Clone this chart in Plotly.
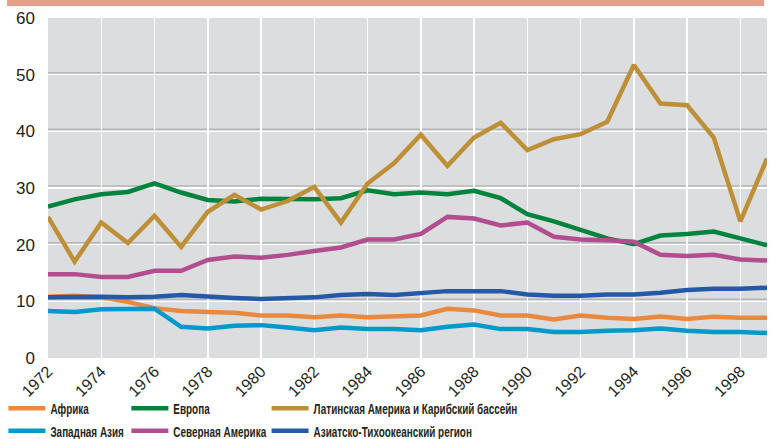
import plotly.graph_objects as go

years = list(range(1972, 2000))

africa = [10.8, 11.0, 10.7, 9.9, 8.8, 8.3, 8.1, 8.0, 7.5, 7.5, 7.2, 7.5, 7.2, 7.3,
          7.5, 8.7, 8.4, 7.5, 7.5, 6.8, 7.5, 7.1, 6.9, 7.3, 6.9, 7.3, 7.1, 7.1]
europe = [26.7, 28.0, 28.9, 29.3, 30.8, 29.2, 27.9, 27.6, 28.1, 28.1, 28.0, 28.2, 29.6, 28.9,
          29.2, 28.9, 29.5, 28.2, 25.4, 24.1, 22.6, 21.1, 20.1, 21.6, 21.9, 22.3, 21.1, 19.9]
latin = [24.9, 17.0, 23.9, 20.3, 25.1, 19.6, 25.8, 28.8, 26.2, 27.7, 30.2, 23.9, 30.8, 34.4,
         39.4, 33.9, 38.9, 41.5, 36.7, 38.6, 39.5, 41.7, 51.7, 44.9, 44.6, 38.9, 24.1, 35.2]
west_asia = [8.3, 8.1, 8.6, 8.6, 8.7, 5.5, 5.2, 5.7, 5.8, 5.4, 4.9, 5.4, 5.1, 5.1,
             4.9, 5.5, 5.9, 5.1, 5.1, 4.6, 4.6, 4.8, 4.9, 5.2, 4.8, 4.6, 4.6, 4.4]
north_america = [14.8, 14.8, 14.3, 14.3, 15.4, 15.4, 17.3, 17.9, 17.7, 18.2, 18.9, 19.5, 20.9, 20.9,
                 21.9, 24.9, 24.6, 23.4, 23.9, 21.4, 20.9, 20.8, 20.5, 18.2, 18.0, 18.2, 17.4, 17.2]
asia_pacific = [10.7, 10.8, 10.8, 10.7, 10.8, 11.1, 10.8, 10.6, 10.4, 10.6, 10.7, 11.1, 11.3, 11.1,
                11.4, 11.8, 11.8, 11.8, 11.2, 11.0, 11.0, 11.2, 11.2, 11.5, 12.0, 12.2, 12.2, 12.4]

series = [
    ("Африка", africa, "#E8893F", "legend"),
    ("Западная Азия", west_asia, "#0099CC", "legend"),
    ("Европа", europe, "#00843D", "legend2"),
    ("Северная Америка", north_america, "#B14E8F", "legend2"),
    ("Азиатско-Тихоокеанский регион", asia_pacific, "#2459A8", "legend3"),
    ("Латинская Америка и Карибский бассейн", latin, "#BD9038", "legend3"),
]

y_ticks = [0, 10, 20, 30, 40, 50, 60]
x_ticks = list(range(1972, 1999, 2))

fig = go.Figure()
for name, vals, color, lg in series:
    fig.add_trace(go.Scatter(x=years, y=vals, name=name, mode="lines",
                             line=dict(color=color, width=4.5), legend=lg,
                             hoverinfo="skip"))

fig.data[4].legendrank = 2
fig.data[5].legendrank = 1

shapes = []
shapes.append(dict(type="rect", xref="paper", yref="paper", x0=-0.057, x1=0.996,
                   y0=1.0 + 12 / 340, y1=1.0 + 18 / 340, fillcolor="#E5A08B",
                   line=dict(width=0), layer="above"))
for v in [10, 20, 30, 40, 50]:
    shapes.append(dict(type="line", xref="paper", yref="y", x0=0, x1=1,
                       ysizemode="pixel", yanchor=v, y0=2, y1=2,
                       line=dict(color="#B5B6B9", width=1.5), layer="below"))

legend_common = dict(orientation="v", yanchor="top", y=-0.100, bgcolor="rgba(0,0,0,0)",
                     font=dict(family="Liberation Sans, Arial, sans-serif",
                               size=15, color="#231F20", weight="bold"),
                     itemwidth=37,
                     tracegroupgap=0, itemclick=False, itemdoubleclick=False)

fig.update_layout(
    width=773, height=439,
    margin=dict(l=48, r=6, t=18, b=81, autoexpand=False),
    paper_bgcolor="white",
    plot_bgcolor="#DCDDDF",
    showlegend=True,
    shapes=shapes,
    legend=dict(x=-0.062, **legend_common),
    legend2=dict(x=0.109, **legend_common),
    legend3=dict(x=0.304, **legend_common),
    xaxis=dict(range=[1972, 1999], tickmode="array", tickvals=x_ticks,
               ticktext=[str(t) for t in x_ticks], tickangle=-45, automargin=False,
               showgrid=True, gridcolor="white", gridwidth=1.5, zeroline=False,
               showline=False, ticks="", tickfont=dict(family="Liberation Sans", size=16, color="#231F20")),
    yaxis=dict(range=[0, 60], tickmode="array", tickvals=y_ticks, automargin=False,
               showgrid=True, gridcolor="white", gridwidth=1.5, zeroline=False,
               showline=False, ticks="", ticklabelstandoff=12,
               tickfont=dict(family="Liberation Sans", size=17, color="#231F20")),
)

post = """
document.body.style.margin = '0';
var gd = document.getElementById('{plot_id}');
function squeeze() {
  gd.querySelectorAll('g.legend text, g.legend2 text, g.legend3 text, text.legendtext').forEach(function (t) {
    if (t.getAttribute('lengthAdjust')) return;
    var w = t.getComputedTextLength();
    if (w > 0) {
      t.setAttribute('textLength', (w * 0.66).toFixed(1));
      t.setAttribute('lengthAdjust', 'spacingAndGlyphs');
    }
  });
}
squeeze();
gd.on('plotly_afterplot', squeeze);
setTimeout(squeeze, 30);
setTimeout(squeeze, 200);
setTimeout(squeeze, 800);
"""

fig.write_html("out.html", post_script=post, config={"displayModeBar": False, "staticPlot": True})
